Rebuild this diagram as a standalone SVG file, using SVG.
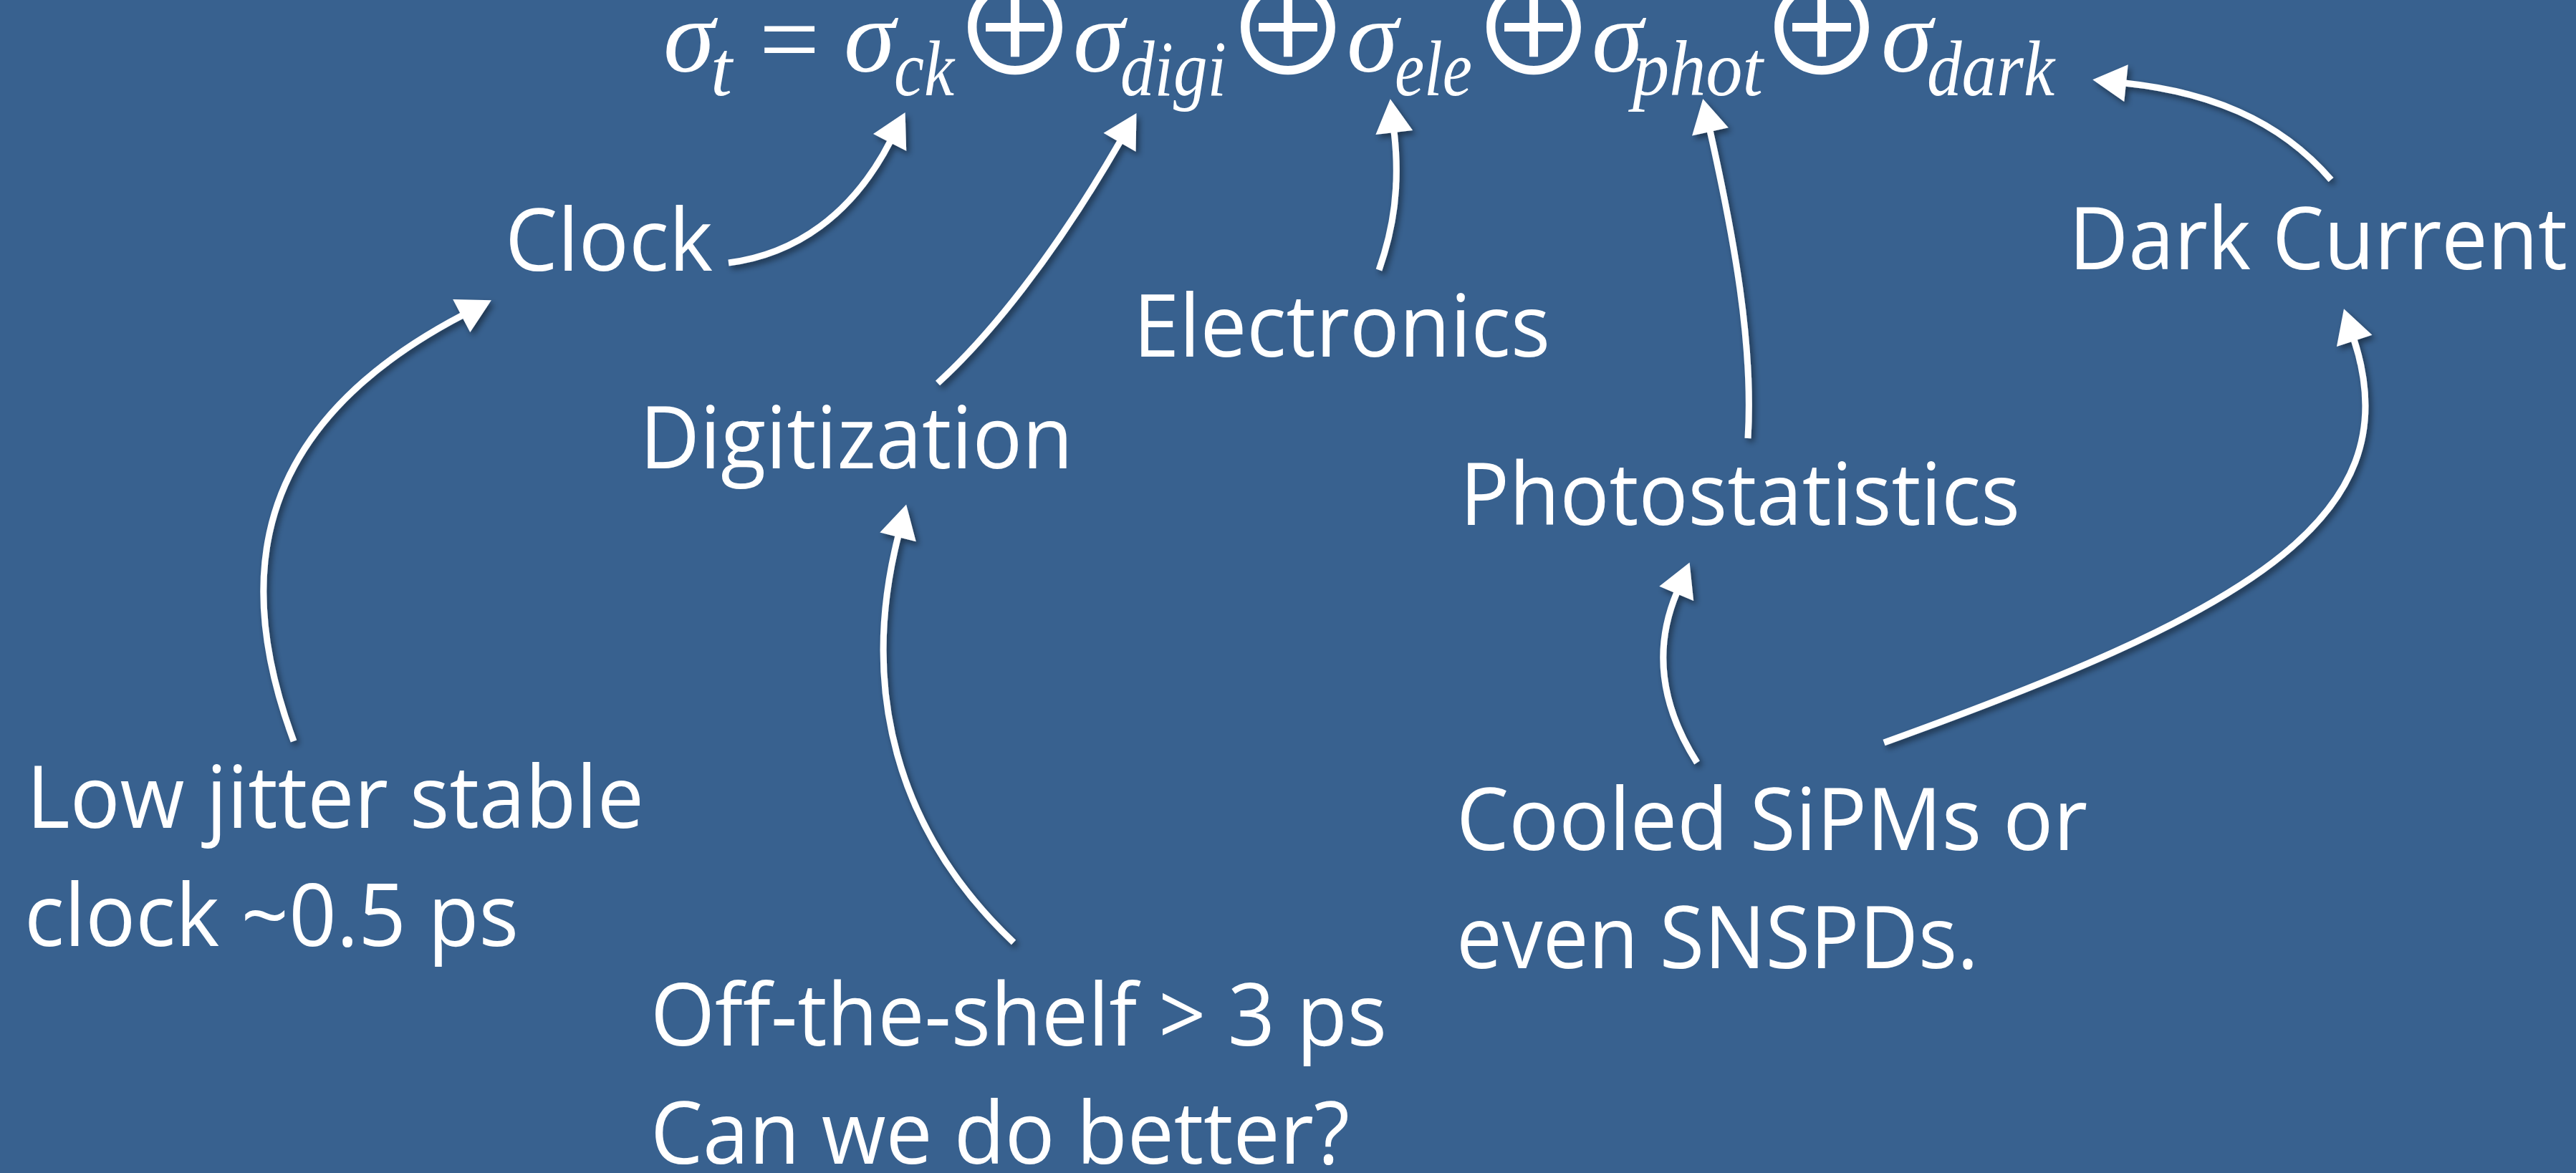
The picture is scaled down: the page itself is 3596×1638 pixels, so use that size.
<svg xmlns="http://www.w3.org/2000/svg" width="3596" height="1638" viewBox="0 0 3596 1638">
<defs>
<style>
.lbl{font-family:"Open Sans","Noto Sans","Liberation Sans",sans-serif;font-size:120px;fill:#ffffff}
.sig{font-family:"Liberation Serif","Times New Roman",serif;font-style:italic;font-size:145px;fill:#ffffff}
.sub{font-family:"Liberation Serif","Times New Roman",serif;font-style:italic;font-size:110px;fill:#ffffff}
.op{font-family:"Liberation Serif","DejaVu Serif",serif;font-size:150px;fill:#ffffff;text-anchor:middle}
.oplus{font-family:"Noto Sans CJK JP","DejaVu Sans",sans-serif;font-size:178px;fill:#ffffff;text-anchor:middle}
.arr{fill:none;stroke:#ffffff;stroke-width:9;marker-end:url(#head)}
</style>
<marker id="head" markerUnits="userSpaceOnUse" markerWidth="50" markerHeight="56" refX="0" refY="26" orient="auto" overflow="visible">
<path d="M-2,0 L45,26 L-2,52 Z" fill="#ffffff"/>
</marker>
<filter id="shadow" x="-20%" y="-20%" width="140%" height="140%">
<feDropShadow dx="4" dy="5" stdDeviation="4" flood-color="#000000" flood-opacity="0.45"/>
</filter>
</defs>
<rect x="0" y="0" width="3596" height="1638" fill="#38618f"/>

<g id="formula">
<text class="sig" x="926" y="100">σ</text>
<text class="sub" x="992" y="133" textLength="30" lengthAdjust="spacingAndGlyphs">t</text>
<text class="op" x="1102" y="105">=</text>
<text class="sig" x="1178" y="100">σ</text>
<text class="sub" x="1248" y="133" textLength="84" lengthAdjust="spacingAndGlyphs">ck</text>
<text class="oplus" x="1417" y="106">⊕</text>
<text class="sig" x="1498" y="100">σ</text>
<text class="sub" x="1564" y="133" textLength="148" lengthAdjust="spacingAndGlyphs">digi</text>
<text class="oplus" x="1798" y="106">⊕</text>
<text class="sig" x="1880" y="100">σ</text>
<text class="sub" x="1947" y="133" textLength="108" lengthAdjust="spacingAndGlyphs">ele</text>
<text class="oplus" x="2141" y="106">⊕</text>
<text class="sig" x="2222" y="100">σ</text>
<text class="sub" x="2279" y="133" textLength="182" lengthAdjust="spacingAndGlyphs">phot</text>
<text class="oplus" x="2543" y="106">⊕</text>
<text class="sig" x="2626" y="100">σ</text>
<text class="sub" x="2690" y="133" textLength="178" lengthAdjust="spacingAndGlyphs">dark</text>
</g>

<g id="node-clock"><text class="lbl" x="705" y="378" textLength="290" lengthAdjust="spacingAndGlyphs">Clock</text></g>
<g id="node-digitization"><text class="lbl" x="893" y="654" textLength="605" lengthAdjust="spacingAndGlyphs">Digitization</text></g>
<g id="node-electronics"><text class="lbl" x="1582" y="498" textLength="582" lengthAdjust="spacingAndGlyphs">Electronics</text></g>
<g id="node-photostatistics"><text class="lbl" x="2038" y="733" textLength="782" lengthAdjust="spacingAndGlyphs">Photostatistics</text></g>
<g id="node-dark-current"><text class="lbl" x="2888" y="376" textLength="696" lengthAdjust="spacingAndGlyphs">Dark Current</text></g>
<g id="node-clock-source">
<text class="lbl" x="37" y="1156" textLength="862" lengthAdjust="spacingAndGlyphs">Low jitter stable</text>
<text class="lbl" x="34" y="1321" textLength="690" lengthAdjust="spacingAndGlyphs">clock ~0.5 ps</text>
</g>
<g id="node-off-the-shelf">
<text class="lbl" x="908" y="1460" textLength="1028" lengthAdjust="spacingAndGlyphs">Off-the-shelf &gt; 3 ps</text>
<text class="lbl" x="908" y="1625" textLength="976" lengthAdjust="spacingAndGlyphs">Can we do better?</text>
</g>
<g id="node-cooled">
<text class="lbl" x="2033" y="1187" textLength="881" lengthAdjust="spacingAndGlyphs">Cooled SiPMs or</text>
<text class="lbl" x="2033" y="1352" textLength="729" lengthAdjust="spacingAndGlyphs">even SNSPDs.</text>
</g>

<g id="connectors" filter="url(#shadow)">
<path class="arr" d="M1017,367 C1110,355 1190,300 1243,197"/>
<path class="arr" d="M1309,535 C1380,470 1470,360 1564,197"/>
<path class="arr" d="M1925,377 C1945,320 1955,260 1946,183"/>
<path class="arr" d="M2440,612 C2448,480 2420,330 2387,182"/>
<path class="arr" d="M3254,251 C3180,165 3080,128 2966,116"/>
<path class="arr" d="M410,1035 C330,820 340,600 646,440"/>
<path class="arr" d="M1415,1316 C1250,1160 1200,960 1254,748"/>
<path class="arr" d="M2369,1065 C2315,980 2310,900 2341,827"/>
<path class="arr" d="M2630,1037 C3120,860 3370,730 3286,474"/>
</g>
</svg>
